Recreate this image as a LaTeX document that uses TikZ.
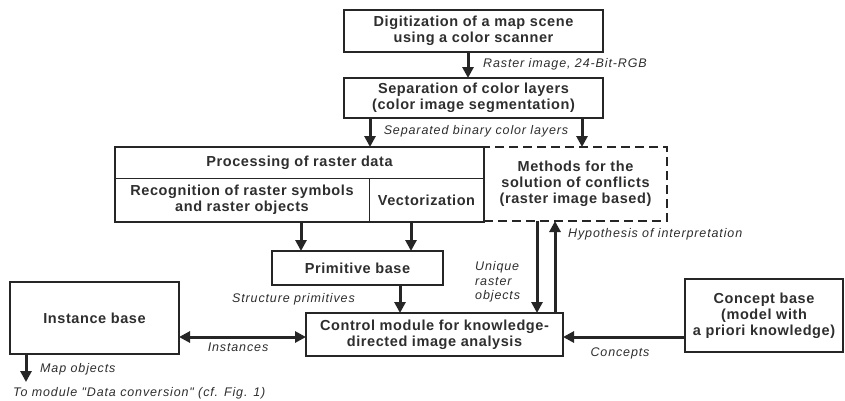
\documentclass[tikz,border=0pt]{standalone}
\usepackage{fontspec}
\setmainfont{Liberation Sans}
\newfontfamily\boxfont[LetterSpace=4]{Liberation Sans}
\newfontfamily\labfont[LetterSpace=7]{Liberation Sans}
\usetikzlibrary{arrows.meta,calc}
\definecolor{ink}{HTML}{262626}
\definecolor{txt}{HTML}{2E2E2E}
\begin{document}
\begin{tikzpicture}[x=1pt,y=-1pt,
  box/.style={draw=ink, line width=1.8pt, anchor=north west, inner sep=0pt, outer sep=0pt,
    align=center, text=txt, font=\boxfont\bfseries\fontsize{14.5}{16}\selectfont},
  cell/.style={box, draw=none},
  dashbox/.style={box, dash pattern=on 9pt off 5pt},
  lab/.style={inner sep=0pt, text=txt, font=\labfont\itshape\fontsize{12.5}{14.5}\selectfont},
  arr/.style={draw=ink, line width=3pt, -{Triangle[length=11pt,width=11pt]}},
  arrtwo/.style={draw=ink, line width=3pt, {Triangle[length=11pt,width=11pt]}-{Triangle[length=11pt,width=11pt]}}
]
\useasboundingbox[fill=white] (0,0) rectangle (845,400);

% boxes
\node[box, minimum width=259, minimum height=42] (dig) at (344,10) {Digitization of a map scene\\using a color scanner};
\node[box, minimum width=259, minimum height=40] (sep) at (344,78) {Separation of color layers\\(color image segmentation)};
\node[dashbox, minimum width=183, minimum height=74] (conf) at (484,147) {Methods for the\\solution of conflicts\\(raster image based)};
\node[cell, minimum width=369, minimum height=31] (title) at (115,147) {Processing of raster data};
\node[cell, minimum width=254, minimum height=44] (recog) at (115,178) {Recognition of raster symbols\\and raster objects};
\node[cell, minimum width=115, minimum height=44] (vect) at (369,178) {Vectorization};
\draw[ink, line width=0.6pt] (recog.north west) -- (vect.north east);
\draw[ink, line width=0.6pt] (recog.north east) -- (recog.south east);
\draw[ink, line width=1.8pt] (title.north west) rectangle (vect.south east);
\node[box, minimum width=171, minimum height=34] (prim) at (272,251) {Primitive base};
\node[box, minimum width=257, minimum height=43] (ctrl) at (306,313) {Control module for knowledge-\\directed image analysis};
\node[box, minimum width=169, minimum height=72] (inst) at (10,282) {Instance base};
\node[box, minimum width=158, minimum height=73] (conc) at (685,279) {Concept base\\(model with\\a priori knowledge)};

% anchor points for connectors
\path ($(dig.south west)+(124,0)$) coordinate (a0)
      ($(sep.south west)+(26,0)$) coordinate (a1)
      ($(sep.south west)+(238,0)$) coordinate (a2)
      ($(prim.north west)+(29,0)$) coordinate (a3)
      ($(prim.north west)+(139,0)$) coordinate (a4)
      ($(ctrl.north west)+(94,0)$) coordinate (a5)
      ($(ctrl.north west)+(231,0)$) coordinate (a6)
      ($(ctrl.north west)+(249,0)$) coordinate (a7)
      ($(ctrl.west)+(0,2.5)$) coordinate (a8)
      ($(ctrl.east)+(0,2.5)$) coordinate (a9)
      ($(inst.south west)+(16,0)$) coordinate (a10)
      ($(a10)+(0,28)$) coordinate (mapend);

% connectors
\draw[arr] (a0) -- (a0 |- sep.north);
\draw[arr] (a1) -- (a1 |- title.north);
\draw[arr] (a2) -- (a2 |- conf.north);
\draw[arr] (a3 |- recog.south) -- (a3);
\draw[arr] (a4 |- vect.south) -- (a4);
\draw[arr] (a5 |- prim.south) -- (a5);
\draw[arr] (a6 |- conf.south) -- (a6);
\draw[arr] (a7) -- (a7 |- conf.south);
\draw[arrtwo] (a8 -| inst.east) -- (a8);
\draw[arr] (a9 -| conc.west) -- (a9);
\draw[arr] (a10) -- (mapend);

% labels
\node[lab, anchor=west] (l1) at (483,64) {Raster image, 24-Bit-RGB};
\node[lab] (l2) at (476,131) {Separated binary color layers};
\node[lab, anchor=west] (l3) at (568,234) {Hypothesis of interpretation};
\node[lab, align=left, anchor=west] (l4) at (475,282) {Unique\\raster\\objects};
\node[lab, anchor=east] (l5) at (355,299) {Structure primitives};
\node[lab] (l6) at (238,347) {Instances};
\node[lab] (l7) at (620,353) {Concepts};
\node[lab, anchor=west] (l8) at (40,369) {Map objects};
\node[lab, anchor=west] (l9) at (13,393) {To module "Data conversion" (cf. Fig. 1)};
\end{tikzpicture}
\end{document}
